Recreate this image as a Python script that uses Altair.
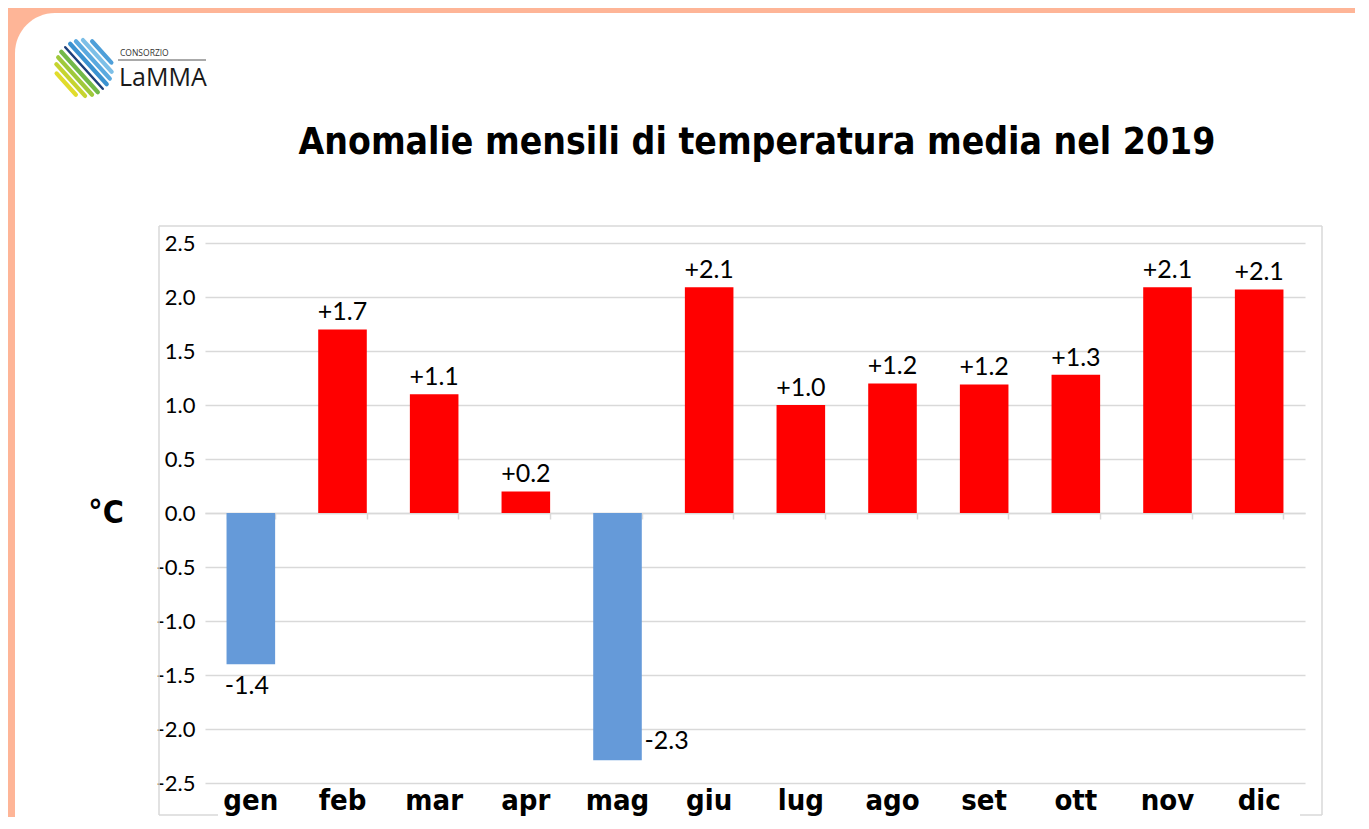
import math
import altair as alt
import pandas as pd

# ---------------- data ----------------
months = ["gen", "feb", "mar", "apr", "mag", "giu", "lug", "ago", "set", "ott", "nov", "dic"]
anomalies = [-1.4, 1.7, 1.1, 0.2, -2.29, 2.09, 1.0, 1.2, 1.19, 1.28, 2.09, 2.07]
y_ticks = [-2.5, -2.0, -1.5, -1.0, -0.5, 0.0, 0.5, 1.0, 1.5, 2.0, 2.5]
title_text = "Anomalie mensili di temperatura media nel 2019"
unit_text = "°C"

df = pd.DataFrame({
    "month": months,
    "value": anomalies,
    "label": [f"{v:+.1f}" for v in anomalies],
    "sign": ["pos" if v >= 0 else "neg" for v in anomalies],
})
one = pd.DataFrame({"k": [0]})

COND = "'Liberation Sans Narrow', 'DejaVu Sans Condensed', sans-serif"
REG = "Lato, 'Noto Sans', sans-serif"
SALMON = "#FEB597"
W, H = 1100, 540

xenc = alt.X(
    "month:N", sort=months, title=None,
    scale=alt.Scale(paddingInner=0.47, paddingOuter=0.235),
    axis=alt.Axis(orient="bottom", labelFont=COND, labelFontWeight="bold", labelFontSize=29,
                  labelColor="black", labelPadding=3, labelAngle=0,
                  domain=False, ticks=False, grid=False),
)
yenc = alt.Y(
    "value:Q", title=None,
    scale=alt.Scale(domain=[-2.5, 2.5], nice=False, zero=False),
    axis=alt.Axis(values=y_ticks,
                  labelExpr="datum.value < 0 ? '-' + format(-datum.value, '.1f') : format(datum.value, '.1f')",
                  labelFont=REG, labelFontSize=22, labelColor="black", labelPadding=10,
                  domain=False, ticks=False, grid=True, gridColor="#D9D9D9", gridWidth=1.5),
)

# salmon border with rounded white corner (decoration; kept away from axes)
border = [
    alt.Chart(one).mark_rect(color=SALMON).encode(
        x=alt.value(-220), x2=alt.value(1200), y=alt.value(-260), y2=alt.value(-230)),
    alt.Chart(one).mark_rect(color=SALMON).encode(
        x=alt.value(-220), x2=alt.value(-190), y=alt.value(-260), y2=alt.value(700)),
    alt.Chart(one).mark_rect(color=SALMON).encode(
        x=alt.value(-220), x2=alt.value(-130), y=alt.value(-260), y2=alt.value(-170)),
    alt.Chart(one).mark_rect(color="white", cornerRadius=40).encode(
        x=alt.value(-190), x2=alt.value(-60), y=alt.value(-230), y2=alt.value(-100)),
]

# light gray frame (bottom edge partially hidden as in the original)
frame_col = "#D9D9D9"
frame = [
    alt.Chart(one).mark_rule(color=frame_col, strokeWidth=1.5).encode(
        x=alt.value(-46), y=alt.value(-17), y2=alt.value(572)),
    alt.Chart(one).mark_rule(color=frame_col, strokeWidth=1.5).encode(
        x=alt.value(1117), y=alt.value(-17), y2=alt.value(572)),
    alt.Chart(one).mark_rule(color=frame_col, strokeWidth=1.5).encode(
        x=alt.value(-46), x2=alt.value(1117), y=alt.value(-17)),
    alt.Chart(one).mark_rule(color=frame_col, strokeWidth=1.5).encode(
        x=alt.value(-46), x2=alt.value(13), y=alt.value(572)),
    alt.Chart(one).mark_rule(color=frame_col, strokeWidth=1.5).encode(
        x=alt.value(1095), x2=alt.value(1117), y=alt.value(572)),
]

# logo stripes (decoration)
logo_cx, logo_cy, logo_r = -121, -175, 28
dirx, diry = 0.67, 0.74
px, py = 0.74, -0.67
stripe_cols = ["#E1DC2C", "#C6D430", "#9FC93B", "#72B948", "#1D3F7A",
               "#3B92D0", "#5AA9DF", "#7DBFE7", "#4E9FD9"]
logo = []
for i, col in enumerate(stripe_cols):
    d = -24 + 6 * i
    L = math.sqrt(max(logo_r ** 2 - d ** 2, 16))
    cx, cy = logo_cx + px * d, logo_cy + py * d
    logo.append(alt.Chart(one).mark_rule(color=col, strokeWidth=2.5 if i == 4 else 4.2,
                                         strokeCap="round").encode(
        x=alt.value(cx - dirx * L), y=alt.value(cy - diry * L),
        x2=alt.value(cx + dirx * L), y2=alt.value(cy + diry * L)))
logo_text = [
    alt.Chart(one).mark_text(text="CONSORZIO", font="'Open Sans', sans-serif", fontSize=8.5,
                             align="left", baseline="middle", color="#333333").encode(
        x=alt.value(-85), y=alt.value(-190)),
    alt.Chart(one).mark_rule(color="#555555", strokeWidth=1).encode(
        x=alt.value(-87), x2=alt.value(1), y=alt.value(-183)),
    alt.Chart(one).mark_text(text="LaMMA", font="'Open Sans', sans-serif", fontSize=25,
                             align="left", baseline="alphabetic", color="#1a1a1a").encode(
        x=alt.value(-86), y=alt.value(-157)),
]

title = alt.Chart(one).mark_text(text=title_text, font=COND, fontWeight="bold", fontSize=37,
                                 align="center", baseline="middle", color="black").encode(
    x=alt.value(552), y=alt.value(-100))
unit = alt.Chart(one).mark_text(text=unit_text, font=COND, fontWeight="bold", fontSize=32,
                                align="center", baseline="middle", color="black").encode(
    x=alt.value(-99), y=alt.value(270))

base = alt.Chart(df)

bars = base.mark_bar().encode(
    x=xenc, y=yenc,
    color=alt.Color("sign:N", scale=alt.Scale(domain=["pos", "neg"], range=["#FF0000", "#659AD9"]),
                    legend=None),
)

zero_axis = base.mark_point(opacity=0).encode(
    x=alt.X("month:N", sort=months, title=None,
            axis=alt.Axis(orient="bottom", offset=-270, labels=False, domain=True,
                          domainColor="#D9D9D9", domainWidth=1.5, ticks=True,
                          tickColor="#D9D9D9", tickWidth=1.5, tickSize=6,
                          tickBand="extent", grid=False)),
)

LBL = 25
xl = alt.X("month:N", sort=months, axis=None)
pos_labels = base.transform_filter("datum.value >= 0").mark_text(
    font=REG, fontSize=LBL, baseline="bottom", dy=-4, color="black").encode(
    x=xl, y="value:Q", text="label:N")
gen_label = base.transform_filter("datum.month == 'gen'").mark_text(
    font=REG, fontSize=LBL, baseline="top", dy=10, dx=-4, color="black").encode(
    x=xl, y="value:Q", text="label:N")
mag_label = base.transform_filter("datum.month == 'mag'").mark_text(
    font=REG, fontSize=LBL, baseline="middle", align="left", dx=27, dy=-19, color="black").encode(
    x=xl, y="value:Q", text="label:N")

chart = alt.layer(
    *border, *frame, *logo, *logo_text, title, unit,
    bars, zero_axis, pos_labels, gen_label, mag_label,
).resolve_axis(x="independent").properties(
    width=W, height=H,
    background="white",
    autosize=alt.AutoSizeParams(type="none"),
    padding={"left": 197, "top": 235, "right": 50, "bottom": 34},
).configure_view(stroke=None)

chart.save("out.html", embed_options={"renderer": "svg", "actions": False})
